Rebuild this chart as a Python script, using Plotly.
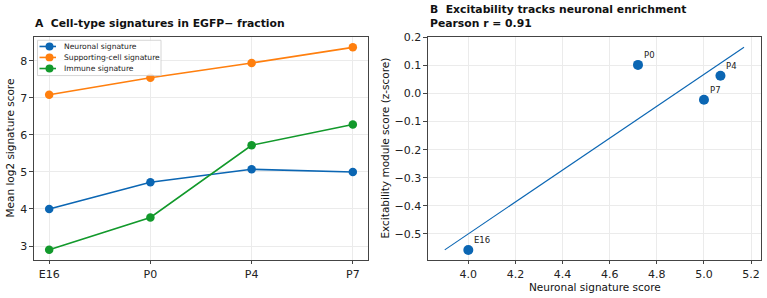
import numpy as np
import plotly.graph_objects as go

stages = ["E16", "P0", "P4", "P7"]
neuronal = [4.00, 4.72, 5.07, 5.00]
supporting = [7.08, 7.54, 7.94, 8.36]
immune = [2.90, 3.77, 5.72, 6.28]

excitability = [-0.557, 0.102, 0.063, -0.022]

series_names = ["Neuronal signature", "Supporting-cell signature", "Immune signature"]
colors = ["#0b66b3", "#ff7f0e", "#12992b"]

FONT = "DejaVu Sans"
fig = go.Figure()

for name, vals, col in zip(series_names, [neuronal, supporting, immune], colors):
    fig.add_trace(go.Scatter(
        x=stages, y=vals, mode="lines+markers", name=name, showlegend=False,
        line=dict(color=col, width=1.6), marker=dict(color=col, size=8.5),
        xaxis="x", yaxis="y"))

# regression line
b, a = np.polyfit(neuronal, excitability, 1)
fx = np.array([min(neuronal) - 0.1, max(neuronal) + 0.1])
fig.add_trace(go.Scatter(x=fx, y=a + b * fx, mode="lines", showlegend=False,
                         line=dict(color="#0b66b3", width=1.1), xaxis="x2", yaxis="y2"))
fig.add_trace(go.Scatter(x=neuronal, y=excitability, mode="markers", showlegend=False,
                         marker=dict(color="#0b66b3", size=10), xaxis="x2", yaxis="y2"))

r = np.corrcoef(neuronal, excitability)[0, 1]

W, H = 767, 298
def px(x): return x / W
def py(y): return 1 - y / H

axis_common = dict(showline=True, linecolor="#444", linewidth=1.2, mirror=True,
                   showgrid=True, gridcolor="#ebebeb", gridwidth=0.8, zeroline=False,
                   ticks="outside", ticklen=3.5, tickcolor="#444",
                   tickfont=dict(family=FONT, size=11, color="#222"))

fig.update_layout(
    width=W, height=H, margin=dict(l=0, r=0, t=0, b=0),
    paper_bgcolor="white", plot_bgcolor="white",
    font=dict(family=FONT, color="#222"),
    xaxis=dict(domain=[px(34), px(368)], range=[-0.15, 3.15], type="category", **axis_common),
    yaxis=dict(domain=[py(259), py(32)], range=[2.63, 8.63], tickvals=[3, 4, 5, 6, 7, 8], **axis_common),
    xaxis2=dict(domain=[px(428), px(761)], range=[3.829, 5.242], anchor="y2",
                tickvals=[4.0, 4.2, 4.4, 4.6, 4.8, 5.0, 5.2], tickformat=".1f", **axis_common),
    yaxis2=dict(domain=[py(259), py(32)], range=[-0.592, 0.2], anchor="x2",
                tickvals=[-0.5, -0.4, -0.3, -0.2, -0.1, 0.0, 0.1, 0.2], tickformat=".1f", **axis_common),
    showlegend=False,
)

annotations = [
    dict(text="<b>A  Cell-type signatures in EGFP\u2212 fraction</b>", x=px(33), y=py(18),
         xanchor="left", yanchor="middle", font=dict(size=10.8)),
    dict(text="<b>B  Excitability tracks neuronal enrichment<br>Pearson r = %.2f</b>" % r,
         x=px(428), y=py(11), xanchor="left", yanchor="middle", align="left", font=dict(size=10.8)),
    dict(text="Mean log2 signature score", x=px(10), y=py(145.5), textangle=-90,
         xanchor="center", yanchor="middle", font=dict(size=10.5)),
    dict(text="Excitability module score (z-score)", x=px(385), y=py(145.5), textangle=-90,
         xanchor="center", yanchor="middle", font=dict(size=10.5)),
    dict(text="Neuronal signature score", x=px(594.5), y=py(287),
         xanchor="center", yanchor="middle", font=dict(size=10.5)),
]
for a_ in annotations:
    a_.update(xref="paper", yref="paper", showarrow=False)
    a_["font"].update(family=FONT, color="#111")
for st, xv, yv in zip(stages, neuronal, excitability):
    annotations.append(dict(text=st, x=xv, y=yv, xref="x2", yref="y2", showarrow=False,
                            xanchor="left", yanchor="bottom", xshift=4, yshift=3,
                            font=dict(family=FONT, size=8.5, color="#222")))

# legend (drawn in matplotlib style: short line + marker, compact rows)
shapes = [dict(type="rect", xref="paper", yref="paper", x0=px(37.5), x1=px(161), y0=py(71), y1=py(35),
               line=dict(color="#cccccc", width=0.8), fillcolor="rgba(255,255,255,0.85)", layer="above")]
row_y = [41.3, 52.5, 63.8]
for name, col, ry in zip(series_names, colors, row_y):
    shapes.append(dict(type="line", xref="paper", yref="paper", x0=px(39.5), x1=px(56), y0=py(ry), y1=py(ry),
                       line=dict(color=col, width=1.6), layer="above"))
    shapes.append(dict(type="circle", xref="paper", yref="paper", x0=px(45.5), x1=px(53.5),
                       y0=py(ry + 4), y1=py(ry - 4), line=dict(color=col, width=0), fillcolor=col, layer="above"))
    annotations.append(dict(text=name, x=px(62), y=py(ry), xref="paper", yref="paper", showarrow=False,
                            xanchor="left", yanchor="middle", font=dict(family=FONT, size=7.6, color="#222")))
fig.update_layout(annotations=annotations, shapes=shapes)

fig.write_html("out.html")
